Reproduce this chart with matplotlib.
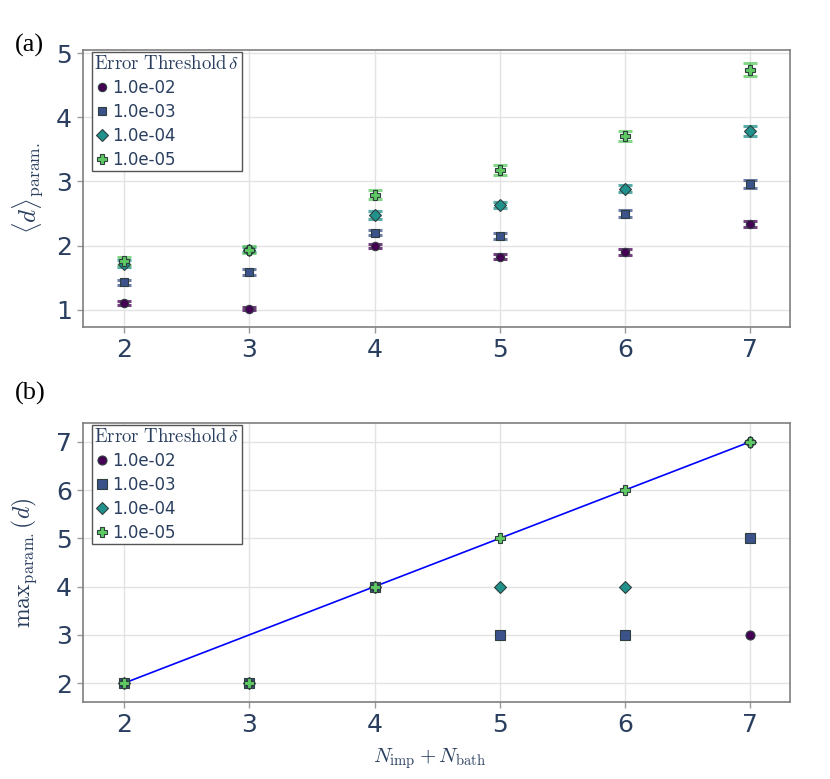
import numpy as np
import matplotlib
matplotlib.use("Agg")
import matplotlib.pyplot as plt

# Veriler
n_total = [2, 3, 4, 5, 6, 7]
thresholds = ["1.0e-02", "1.0e-03", "1.0e-04", "1.0e-05"]

mean_d = [
    [1.11, 1.02, 2.00, 1.83, 1.90, 2.34],
    [1.43, 1.59, 2.20, 2.15, 2.50, 2.96],
    [1.72, 1.94, 2.48, 2.63, 2.89, 3.79],
    [1.76, 1.94, 2.79, 3.18, 3.71, 4.74],
]
err_d = [
    [0.03, 0.02, 0.03, 0.04, 0.05, 0.05],
    [0.04, 0.05, 0.04, 0.04, 0.06, 0.06],
    [0.05, 0.04, 0.06, 0.05, 0.05, 0.08],
    [0.06, 0.05, 0.07, 0.08, 0.08, 0.10],
]
max_d = [
    [2, 2, 4, 3, 3, 3],
    [2, 2, 4, 3, 3, 5],
    [2, 2, 4, 4, 4, 7],
    [2, 2, 4, 5, 6, 7],
]

colors = ["#440154", "#3b528b", "#21918c", "#5ec962"]
markers = ["o", "s", "D", "P"]
sizes = [6, 6, 6, 7]
text_color = "#2a3f5f"

plt.rcParams["mathtext.fontset"] = "cm"

fig = plt.figure(figsize=(8.3, 7.79), dpi=100)
ax1 = fig.add_axes([0.100, 0.580, 0.852, 0.356])
ax2 = fig.add_axes([0.100, 0.099, 0.852, 0.358])


def style_axes(ax):
    ax.grid(True, color="#e3e3e3", linewidth=1)
    ax.set_axisbelow(True)
    for sp in ax.spines.values():
        sp.set_color("#7f7f7f")
        sp.set_linewidth(1.2)
    ax.tick_params(axis="both", colors="#9a9a9a", length=4, width=1,
                   labelsize=18, labelcolor=text_color, pad=4)
    ax.set_xticks(n_total)
    ax.set_xlim(1.67, 7.32)


# (a) ortalama derinlik
for i in range(4):
    ax1.errorbar(n_total, mean_d[i], yerr=err_d[i], fmt="none",
                 ecolor=colors[i], alpha=0.75, elinewidth=1.5,
                 capsize=5, capthick=2.2, zorder=2)
    ax1.plot(n_total, mean_d[i], linestyle="none", marker=markers[i],
             ms=sizes[i], color=colors[i], mec="#2f3f3f", mew=0.8,
             label=thresholds[i], zorder=3)
style_axes(ax1)
ax1.set_ylim(0.73, 5.05)
ax1.set_yticks([1, 2, 3, 4, 5])
ax1.set_ylabel(r"$\langle d\rangle_{\rm param.}$", fontsize=18,
               color=text_color)
ax1.yaxis.set_label_coords(-0.053, 0.5)

# (b) maksimum derinlik
ax2.plot([n_total[0], n_total[-1]], [n_total[0], n_total[-1]],
         color="blue", linewidth=1.2, zorder=2)
for i in range(4):
    ax2.plot(n_total, max_d[i], linestyle="none", marker=markers[i],
             ms=sizes[i] + 0.5, color=colors[i], mec="#2f3f3f", mew=0.8,
             label=thresholds[i], zorder=3)
style_axes(ax2)
ax2.set_ylim(1.61, 7.39)
ax2.set_yticks([2, 3, 4, 5, 6, 7])
ax2.set_ylabel(r"$\mathrm{max}_{\rm param.}(d)$", fontsize=17,
               color=text_color)
ax2.yaxis.set_label_coords(-0.062, 0.5)
ax2.set_xlabel(r"$N_{\rm imp} + N_{\rm bath}$", fontsize=15,
               color=text_color)
ax2.xaxis.set_label_coords(0.49, -0.16)

for ax in (ax1, ax2):
    leg = ax.legend(title=r"$\mathrm{Error\ Threshold}\,\delta$",
                    loc="upper left", bbox_to_anchor=(0.0125, 0.993),
                    fontsize=12, title_fontsize=13.5, frameon=True,
                    fancybox=False, edgecolor="#555555", framealpha=1,
                    borderpad=0.15, labelspacing=0.35, handletextpad=0.15,
                    handlelength=0.9, borderaxespad=0.0)
    leg.get_frame().set_linewidth(1.0)
    leg.get_title().set_color(text_color)
    leg._legend_box.align = "left"
    for t in leg.get_texts():
        t.set_color(text_color)

fig.text(0.018, 0.942, "(a)", fontsize=19, family="Liberation Serif",
         va="center", ha="left")
fig.text(0.018, 0.495, "(b)", fontsize=19, family="Liberation Serif",
         va="center", ha="left")

fig.savefig("out.png", dpi=100)
